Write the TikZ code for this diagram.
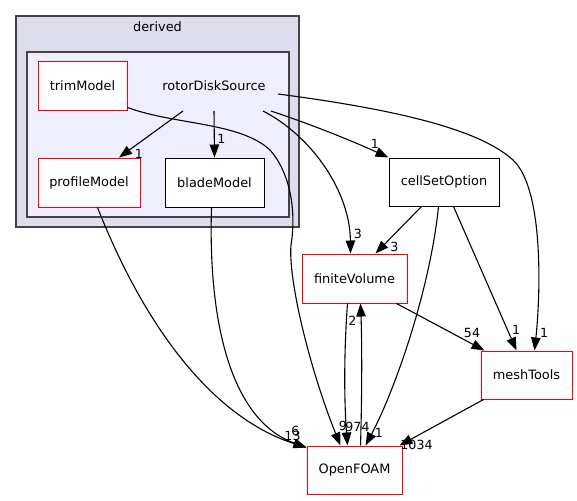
\documentclass[tikz,border=0pt]{standalone}
\usepackage{fontspec}
\setmainfont{DejaVu Sans}
\usetikzlibrary{arrows.meta,calc}
\definecolor{clouter}{HTML}{DDDDEE}
\definecolor{clinner}{HTML}{EEEEFF}
\definecolor{clline}{HTML}{444444}
\begin{document}
\begin{tikzpicture}[x=1pt,y=-1pt,
  dirbox/.style={draw=black,fill=white,line width=1pt,inner sep=0pt,text=black,
    font=\fontsize{12.9}{15}\selectfont},
  redbox/.style={dirbox,draw=red},
  cluster/.style={draw=clline,line width=1.3pt,inner sep=0pt},
  dep/.style={draw=black,line width=1.1pt,-{Triangle[length=13pt,width=9.5pt]}},
  elab/.style={inner sep=0pt,text=black,font=\fontsize{12.6}{14}\selectfont},
  clab/.style={inner sep=0pt,text=black,font=\fontsize{12.9}{15}\selectfont}]
\useasboundingbox (0,0) rectangle (577,500);
% clusters
\node[cluster,fill=clouter,minimum width=283pt,minimum height=211pt] (derived) at (157.5,121.5) {};
\node[clab] (derivedlabel) at (157.5,27) {derived};
\node[cluster,fill=clinner,minimum width=262pt,minimum height=165pt] (rds) at (158,134.5) {};
\node[clab] (rdslabel) at (214,86) {rotorDiskSource};
% boxes
\node[redbox,minimum width=89pt,minimum height=48pt] (trimModel) at (82.5,86) {trimModel};
\node[redbox,minimum width=102pt,minimum height=49pt] (profileModel) at (89,182.5) {profileModel};
\node[dirbox,minimum width=99pt,minimum height=49pt] (bladeModel) at (214.5,182.5) {bladeModel};
\node[dirbox,minimum width=110pt,minimum height=48pt] (cellSetOption) at (444,182) {cellSetOption};
\node[redbox,minimum width=105pt,minimum height=49pt] (finiteVolume) at (354.5,278.5) {finiteVolume};
\node[redbox,minimum width=91pt,minimum height=48pt] (meshTools) at (526.5,375) {meshTools};
\node[redbox,minimum width=95pt,minimum height=48pt] (OpenFOAM) at (354.5,470) {OpenFOAM};
% rotorDiskSource edge start points
\coordinate (rdsA) at (183,111);
\coordinate (rdsB) at (214,111);
\coordinate (rdsC) at (263,111);
\coordinate (rdsD) at (271,111);
\coordinate (rdsE) at (278,94);
% edges
\draw[dep] (rdsA) -- ($(profileModel.north west)+(81.5,0)$);
\draw[dep] (rdsB) -- (bladeModel.north);
\draw[dep] (rdsC) .. controls (310,135) and (350,190) .. ($(finiteVolume.north west)+(49,0)$);
\draw[dep] (rdsD) .. controls (310,124) and (350,140) .. (cellSetOption.north west);
\draw[dep] (rdsE) .. controls (400,110) and (480,130) .. (513,160)
  .. controls (545,190) and (540,300) .. ($(meshTools.north west)+(54,0)$);
\draw[dep] ($(trimModel.south east)+(0,-3)$) .. controls (175,125) and (240,122) .. (270,150)
  .. controls (292,175) and (296,215) .. (291,245)
  .. controls (288,280) and (310,370) .. ($(OpenFOAM.north west)+(34,0)$);
\draw[dep] ($(profileModel.south west)+(60,0)$) .. controls (150,340) and (220,420) .. ($(OpenFOAM.north west)+(0,2)$);
\draw[dep] ($(bladeModel.south west)+(47,0)$) .. controls (208,320) and (230,420) .. ($(OpenFOAM.north west)+(0,2)$);
\draw[dep] ($(cellSetOption.south west)+(33,0)$) -- ($(finiteVolume.north west)+(74,0)$);
\draw[dep] ($(cellSetOption.south west)+(50,0)$) .. controls (430,290) and (395,390) .. ($(OpenFOAM.north west)+(59,0)$);
\draw[dep] ($(cellSetOption.south west)+(65,0)$) -- ($(meshTools.north west)+(36,0)$);
\draw[dep] ($(finiteVolume.south west)+(95,0)$) -- ($(meshTools.north west)+(4,0)$);
\draw[dep] ($(finiteVolume.south west)+(46,0)$) .. controls (344,350) and (344,400) .. ($(OpenFOAM.north west)+(41,0)$);
\draw[dep] ($(OpenFOAM.north west)+(54,0)$) .. controls (362,400) and (362,340) .. ($(finiteVolume.south west)+(59,0)$);
\draw[dep] ($(meshTools.south west)+(3,0)$) -- ($(OpenFOAM.north west)+(93,0)$);
% edge labels
\node[elab] (l1) at (139,154) {1};
\node[elab] (l2) at (221.5,139) {1};
\node[elab] (l3) at (375,144) {1};
\node[elab] (l4) at (358,234) {3};
\node[elab] (l5) at (394.5,246.5) {3};
\node[elab] (l6) at (516,330) {1};
\node[elab] (l7) at (544,332.5) {1};
\node[elab] (l8) at (472,333) {54};
\node[elab] (l9) at (352.5,320.5) {2};
\node[elab] (l10) at (343,425.5) {9};
\node[elab] (l11) at (357.5,426.5) {974};
\node[elab] (l12) at (379,432.5) {1};
\node[elab] (l13) at (416.5,444.5) {1034};
\node[elab] (l14) at (295.5,430.5) {6};
\node[elab] (l15) at (292.5,435.5) {13};
\end{tikzpicture}
\end{document}
